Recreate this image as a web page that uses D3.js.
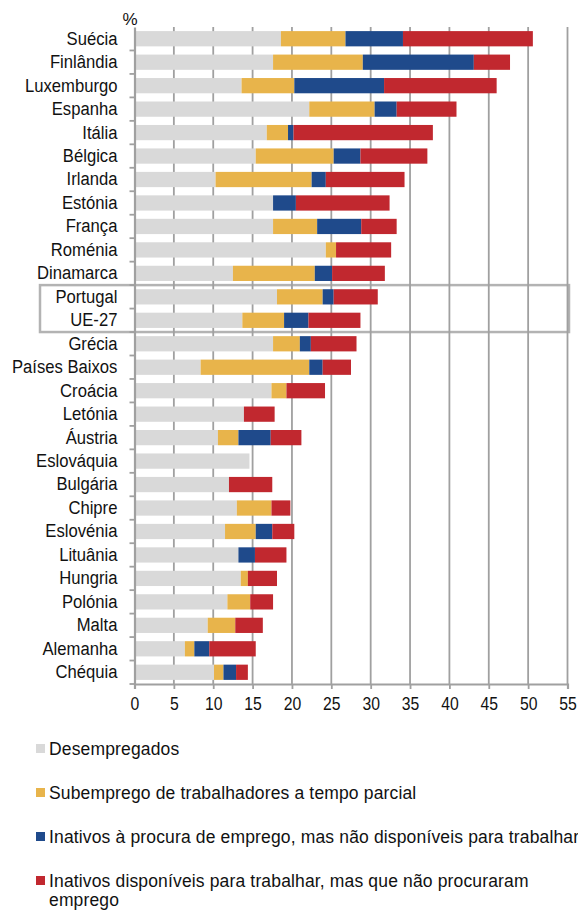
<!DOCTYPE html>
<meta charset="utf-8">
<style>
body { margin: 0; background: #fff; }
svg text { font-family: "Liberation Sans", Arial, sans-serif; fill: #111; }
</style>
<svg id="chart" width="578" height="910"></svg>
<script src="https://cdn.jsdelivr.net/npm/d3@7/dist/d3.min.js"></script>
<script>

var categories = ["Suécia", "Finlândia", "Luxemburgo", "Espanha", "Itália", "Bélgica",
  "Irlanda", "Estónia", "França", "Roménia", "Dinamarca", "Portugal", "UE-27", "Grécia",
  "Países Baixos", "Croácia", "Letónia", "Áustria", "Eslováquia", "Bulgária", "Chipre",
  "Eslovénia", "Lituânia", "Hungria", "Polónia", "Malta", "Alemanha", "Chéquia"];

var desempregados = [18.6, 17.6, 13.6, 22.2, 16.8, 15.4, 10.3, 17.6, 17.6, 24.3, 12.5, 18.1, 13.7, 17.6,
  8.4, 17.4, 13.9, 10.6, 14.6, 12.0, 13.0, 11.5, 13.2, 13.5, 11.8, 9.3, 6.4, 10.1];
var subemprego = [8.2, 11.4, 6.7, 8.3, 2.7, 9.9, 12.2, 0, 5.6, 1.3, 10.4, 5.8, 5.3, 3.4,
  13.8, 1.9, 0, 2.6, 0, 0, 4.4, 3.9, 0, 0.9, 2.9, 3.5, 1.2, 1.2];
var inativosProcura = [7.3, 14.1, 11.4, 2.8, 0.7, 3.4, 1.8, 2.9, 5.6, 0, 2.2, 1.4, 3.1, 1.4,
  1.7, 0, 0, 4.1, 0, 0, 0, 2.1, 2.1, 0, 0, 0, 1.9, 1.6];
var inativosDisponiveis = [16.5, 4.6, 14.3, 7.6, 17.7, 8.5, 10.0, 11.9, 4.5, 7.0, 6.7, 5.6, 6.6, 5.8,
  3.6, 4.9, 3.9, 3.9, 0, 5.5, 2.4, 2.8, 4.0, 3.7, 2.9, 3.5, 5.9, 1.5];

var xTicks = [0, 5, 10, 15, 20, 25, 30, 35, 40, 45, 50, 55];

var seriesNames = ["Desempregados", "Subemprego de trabalhadores a tempo parcial",
  "Inativos à procura de emprego, mas não disponíveis para trabalhar",
  "Inativos disponíveis para trabalhar, mas que não procuraram emprego"];
var colors = ["#d9d9d9", "#e8b44b", "#1f4a8b", "#c1282f"];

var keys = ["d", "s", "p", "i"];
var rows = categories.map(function (c, k) {
  return { cat: c, d: desempregados[k], s: subemprego[k], p: inativosProcura[k], i: inativosDisponiveis[k] };
});

var svg = d3.select("#chart");

var x = d3.scaleLinear().domain([0, 55]).range([134.5, 567.5]);
var y = d3.scaleBand().domain(categories).range([27, 684]).paddingInner(0.35).paddingOuter(0.175);

// highlight box Portugal / UE-27
var bandTop = y("Portugal") - y.step() * y.paddingInner() / 2;
svg.append("rect")
    .attr("x", 40)
    .attr("y", bandTop)
    .attr("width", 529)
    .attr("height", y.step() * 2)
    .attr("fill", "none")
    .attr("stroke", "#b3b3b3")
    .attr("stroke-width", 2.5);

// gridlines
svg.append("g").selectAll("line")
  .data(xTicks.slice(1))
  .enter().append("line")
    .attr("x1", function (d) { return x(d); })
    .attr("x2", function (d) { return x(d); })
    .attr("y1", 27)
    .attr("y2", 684)
    .attr("stroke", "#a0a0a0")
    .attr("stroke-width", 1.8);

var stack = d3.stack().keys(keys);
var layers = stack(rows);

svg.append("g").selectAll("g")
  .data(layers)
  .enter().append("g")
    .attr("fill", function (d, k) { return colors[k]; })
  .selectAll("rect")
  .data(function (d) { return d; })
  .enter().append("rect")
    .attr("x", function (d) { return x(d[0]); })
    .attr("y", function (d) { return y(d.data.cat); })
    .attr("width", function (d) { return x(d[1]) - x(d[0]); })
    .attr("height", y.bandwidth());

// x axis
var xAxis = svg.append("g")
    .attr("transform", "translate(0,684)")
    .call(d3.axisBottom(x).tickValues(xTicks).tickSize(5).tickPadding(9).tickFormat(d3.format("d")));
xAxis.select(".domain").attr("stroke", "#a0a0a0").attr("stroke-width", 2.2);
xAxis.selectAll(".tick line").attr("stroke", "#a0a0a0").attr("stroke-width", 1.8);
xAxis.selectAll(".tick text")
    .style("font-size", "17.5px")
    .attr("fill", "#111")
    .attr("transform", "scale(0.9,1)");

// y axis
var yAxis = svg.append("g")
    .attr("transform", "translate(134.5,0)")
    .call(d3.axisLeft(y).tickSize(0).tickPadding(17));
yAxis.select(".domain").attr("stroke", "#a0a0a0").attr("stroke-width", 2.2);
yAxis.selectAll(".tick text")
    .style("font-size", "18.5px")
    .attr("fill", "#111")
    .attr("x", -19)
    .attr("transform", "scale(0.9,1)");

// boundary ticks between categories
svg.append("g").selectAll("line")
  .data(categories.slice(1).concat(["end"]))
  .enter().append("line")
    .attr("x1", 129.5)
    .attr("x2", 134.5)
    .attr("y1", function (d, k) { return 27 + y.step() * (k + 1); })
    .attr("y2", function (d, k) { return 27 + y.step() * (k + 1); })
    .attr("stroke", "#a0a0a0")
    .attr("stroke-width", 1.8);

svg.append("text")
    .attr("x", 130)
    .attr("y", 25)
    .attr("text-anchor", "middle")
    .style("font-size", "17px")
    .text("%");

// legend
var legendY = [749, 793, 837, 881];
var legend = svg.append("g").selectAll("g")
  .data(seriesNames)
  .enter().append("g")
    .attr("transform", function (d, k) { return "translate(0," + legendY[k] + ")"; });

legend.append("rect")
    .attr("x", 36)
    .attr("y", -5)
    .attr("width", 9)
    .attr("height", 9)
    .attr("fill", function (d, k) { return colors[k]; });

legend.append("text")
    .attr("x", 49)
    .attr("y", 6)
    .style("font-size", "17.5px")
    .style("letter-spacing", "0.15px")
    .text(function (d, k) { return k === 3 ? "Inativos disponíveis para trabalhar, mas que não procuraram" : d; });

svg.append("text")
    .attr("x", 49)
    .attr("y", 906)
    .style("font-size", "17.5px")
    .style("letter-spacing", "0.15px")
    .text("emprego");

</script>
